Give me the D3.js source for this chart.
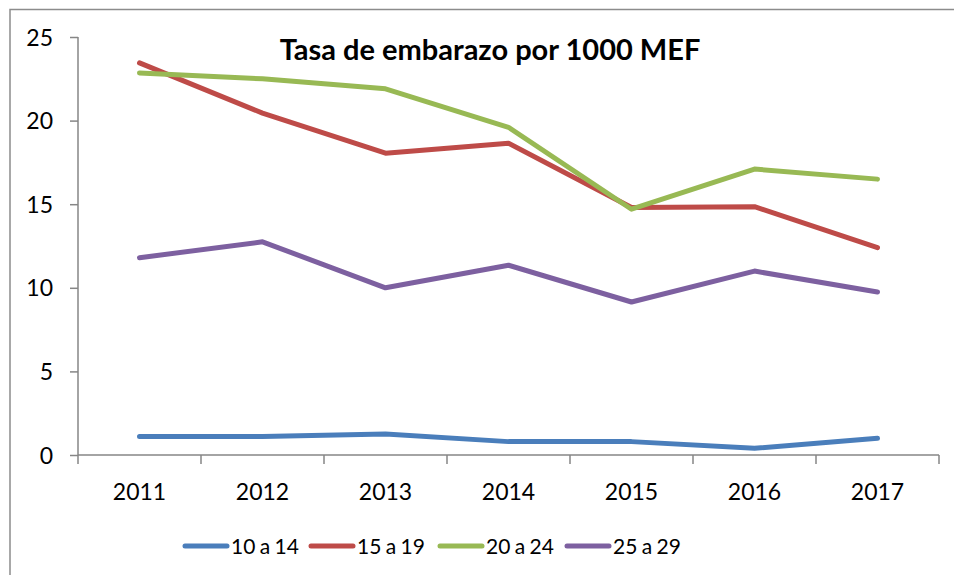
<!DOCTYPE html>
<html>
<head>
<meta charset="utf-8">
<script src="https://cdn.jsdelivr.net/npm/d3@7"></script>
<style>
  body { margin: 0; background: #fff; }
  svg text { font-family: Lato, "Open Sans", sans-serif; fill: #000; }
</style>
</head>
<body>
<script>
// values
const years = ["2011", "2012", "2013", "2014", "2015", "2016", "2017"];
const seriesNames = ["10 a 14", "15 a 19", "20 a 24", "25 a 29"];
const colors = ["#4a7ebb", "#be4b48", "#98b954", "#7d60a0"];
const v10a14 = [1.1, 1.1, 1.25, 0.8, 0.8, 0.4, 1.0];
const v15a19 = [23.45, 20.45, 18.05, 18.65, 14.8, 14.85, 12.4];
const v20a24 = [22.85, 22.5, 21.9, 19.6, 14.7, 17.1, 16.5];
const v25a29 = [11.8, 12.75, 10.0, 11.35, 9.15, 11.0, 9.75];
const yTicks = [0, 5, 10, 15, 20, 25];

const svgWidth = 954;
const svgHeight = 575;
const margin = {left: 78, top: 37, right: 15, bottom: 120};
const chartWidth = 939 - margin.left;
const chartHeight = 455 - margin.top;

const svg = d3.select("body")
    .append("svg")
    .attr("width", svgWidth)
    .attr("height", svgHeight);

// outer chart frame (cropped on right/bottom)
svg.append("rect")
    .attr("x", 10)
    .attr("y", 9.5)
    .attr("width", 960)
    .attr("height", 600)
    .attr("fill", "none")
    .attr("stroke", "#8c8c8c")
    .attr("stroke-width", 1.5);

const chart = svg.append("g")
    .attr("transform", `translate(${margin.left},${margin.top})`);

const xScale = d3.scaleBand()
    .domain(years)
    .range([0, chartWidth]);

const yScale = d3.scaleLinear()
    .domain([0, 25])
    .range([chartHeight, 0]);

const axisColor = "#868686";

// y axis
const yAxis = chart.append("g")
    .call(d3.axisLeft(yScale).tickValues(yTicks).tickSize(8).tickPadding(17));
yAxis.select(".domain").attr("stroke", axisColor).attr("stroke-width", 1.5)
    .attr("d", `M0,${chartHeight}V0`);
yAxis.selectAll(".tick line").attr("stroke", axisColor).attr("stroke-width", 1.5);
yAxis.selectAll(".tick text")
    .style("font-size", "23px")
    .attr("dy", "0.35em");

// x axis: ticks sit between categories
const xAxis = chart.append("g")
    .attr("transform", `translate(0,${chartHeight})`);
xAxis.append("line")
    .attr("x1", 0).attr("x2", chartWidth)
    .attr("stroke", axisColor).attr("stroke-width", 1.5);
const edges = years.map(y => xScale(y)).concat([chartWidth]);
xAxis.selectAll(".xtick")
    .data(edges)
    .enter()
    .append("line")
    .attr("x1", d => d).attr("x2", d => d)
    .attr("y1", 0).attr("y2", 9)
    .attr("stroke", axisColor).attr("stroke-width", 1.5);
xAxis.selectAll(".xlabel")
    .data(years)
    .enter()
    .append("text")
    .attr("x", d => xScale(d) + xScale.bandwidth() / 2)
    .attr("y", 45)
    .attr("text-anchor", "middle")
    .style("font-size", "23px")
    .text(d => d);

// lines
const allSeries = [v10a14, v15a19, v20a24, v25a29];
const line = d3.line()
    .x((d, i) => xScale(years[i]) + xScale.bandwidth() / 2)
    .y(d => yScale(d));

chart.selectAll(".series")
    .data(allSeries)
    .enter()
    .append("path")
    .attr("d", d => line(d))
    .attr("fill", "none")
    .attr("stroke", (d, i) => colors[i])
    .attr("stroke-width", 5)
    .attr("stroke-linejoin", "round")
    .attr("stroke-linecap", "round");

// title
svg.append("text")
    .attr("x", 490)
    .attr("y", 60)
    .attr("text-anchor", "middle")
    .style("font-size", "29px")
    .style("font-weight", "bold")
    .text("Tasa de embarazo por 1000 MEF");

// legend
const legendX = [185, 311, 440, 567];
const legend = svg.selectAll(".legend")
    .data(seriesNames)
    .enter()
    .append("g")
    .attr("transform", (d, i) => `translate(${legendX[i]},546)`);
legend.append("line")
    .attr("x1", 0).attr("x2", 42)
    .attr("stroke", (d, i) => colors[i])
    .attr("stroke-width", 5)
    .attr("stroke-linecap", "round");
legend.append("text")
    .attr("x", 46)
    .attr("dy", "0.38em")
    .style("font-size", "21px")
    .style("word-spacing", "-1px")
    .text(d => d);
</script>
</body>
</html>
